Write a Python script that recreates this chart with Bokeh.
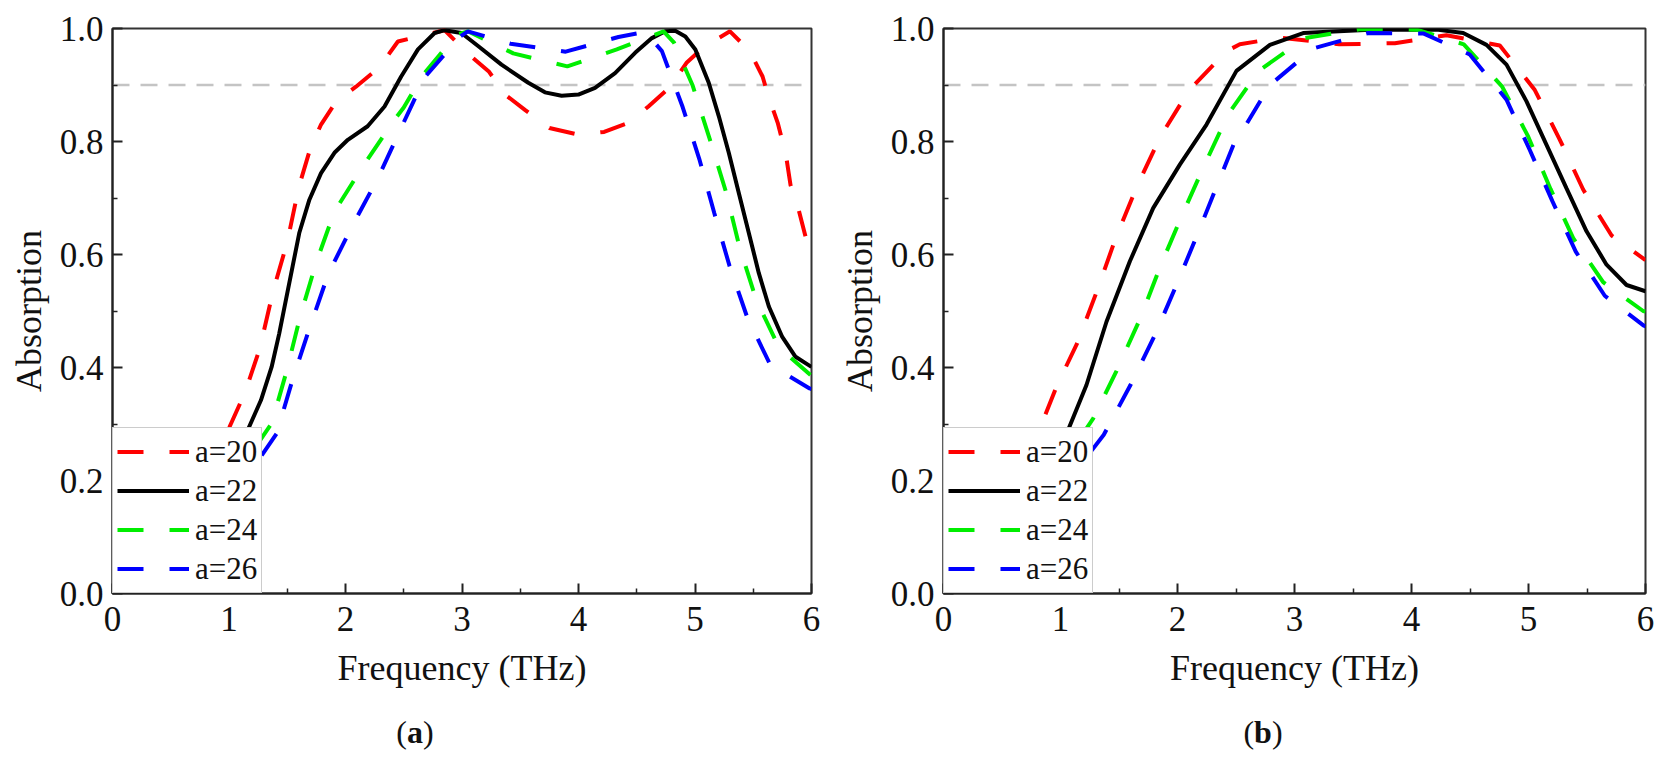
from bokeh.plotting import figure
from bokeh.models import Range1d, FixedTicker, PrintfTickFormatter, Legend, LegendItem, Span, Div
from bokeh.layouts import row, column
from bokeh.embed import file_html
from bokeh.resources import INLINE

# ---------------- data: panel (a) ----------------
fa20 = [0.0, 0.5, 0.95, 1.136, 1.265, 1.377, 1.50, 1.60, 1.70, 1.79, 1.92, 2.09, 2.29, 2.45, 2.71, 2.85,
        3.06, 3.23, 3.37, 3.54, 3.75, 4.0, 4.22, 4.43, 4.6, 4.78, 4.93, 5.08, 5.3, 5.47, 5.58, 5.63,
        5.71, 5.78, 5.82, 5.89, 5.95, 6.0]
aa20 = [0.0, 0.08, 0.27, 0.355, 0.434, 0.534, 0.622, 0.72, 0.789, 0.83, 0.871, 0.897, 0.931, 0.977, 0.99, 0.997,
        0.954, 0.924, 0.883, 0.856, 0.824, 0.812, 0.817, 0.833, 0.862, 0.895, 0.94, 0.968, 0.995, 0.96, 0.915, 0.88,
        0.833, 0.777, 0.723, 0.679, 0.631, 0.59]

fa22 = [0.0, 0.6, 1.16, 1.274, 1.366, 1.431, 1.489, 1.546, 1.603, 1.69, 1.79, 1.905, 2.02, 2.19, 2.335, 2.478,
        2.622, 2.765, 2.851, 2.995, 3.138, 3.339, 3.569, 3.712, 3.855, 3.999, 4.142, 4.314, 4.486, 4.63, 4.745,
        4.83, 4.917, 5.003, 5.118, 5.204, 5.29, 5.376, 5.462, 5.548, 5.634, 5.749, 5.863, 6.0]
aa22 = [0.0, 0.1, 0.289, 0.342, 0.401, 0.46, 0.52, 0.579, 0.638, 0.697, 0.744, 0.78, 0.803, 0.827, 0.862, 0.915,
        0.963, 0.992, 0.997, 0.992, 0.969, 0.936, 0.904, 0.887, 0.881, 0.883, 0.895, 0.921, 0.957, 0.983, 0.995,
        0.996, 0.986, 0.963, 0.904, 0.845, 0.78, 0.709, 0.638, 0.567, 0.508, 0.454, 0.419, 0.401]

fa24 = [0.0, 0.7, 1.366, 1.495, 1.609, 1.747, 1.905, 2.149, 2.421, 2.5, 2.665, 2.952, 3.05, 3.44, 3.904,
        4.329, 4.73, 4.82, 4.98, 5.138, 5.267, 5.381, 5.525, 5.72, 6.0]
aa24 = [0.0, 0.1, 0.301, 0.394, 0.489, 0.585, 0.676, 0.756, 0.839, 0.86, 0.918, 0.989, 0.995, 0.956, 0.933,
        0.963, 0.995, 0.975, 0.899, 0.797, 0.71, 0.614, 0.52, 0.436, 0.385]

fa26 = [0.0, 0.8, 1.409, 1.546, 1.695, 1.853, 2.054, 2.283, 2.484, 2.685, 2.98, 3.05, 3.417, 3.89, 4.343,
        4.573, 4.716, 4.894, 5.037, 5.166, 5.296, 5.448, 5.648, 5.984, 6.0]
aa26 = [0.0, 0.1, 0.283, 0.379, 0.472, 0.566, 0.649, 0.737, 0.827, 0.915, 0.985, 0.995, 0.973, 0.959, 0.985,
        0.994, 0.96, 0.861, 0.769, 0.673, 0.58, 0.489, 0.404, 0.363, 0.362]

# ---------------- data: panel (b) ----------------
fb20 = [0.0, 0.4, 0.8, 0.972, 1.143, 1.313, 1.47, 1.65, 1.855, 2.097, 2.419, 2.533, 2.875, 3.382, 3.858,
        4.299, 4.755, 5.054, 5.268, 5.467, 5.709, 6.0]
ab20 = [0.0, 0.1, 0.28, 0.369, 0.443, 0.536, 0.628, 0.719, 0.809, 0.89, 0.96, 0.972, 0.984, 0.972, 0.974,
        0.988, 0.97, 0.891, 0.803, 0.715, 0.634, 0.59]

fb22 = [0.0, 0.5, 1.066, 1.222, 1.393, 1.593, 1.792, 2.02, 2.248, 2.504, 2.79, 3.074, 3.644, 4.214, 4.442,
        4.641, 4.812, 4.983, 5.154, 5.325, 5.496, 5.667, 5.838, 6.0]
ab22 = [0.0, 0.1, 0.29, 0.369, 0.481, 0.588, 0.682, 0.759, 0.83, 0.925, 0.971, 0.992, 0.998, 0.998, 0.992,
        0.971, 0.936, 0.871, 0.794, 0.717, 0.641, 0.582, 0.546, 0.535]

fb24 = [0.0, 0.6, 1.28, 1.479, 1.684, 1.855, 2.04, 2.234, 2.433, 2.695, 3.088, 3.564, 4.043, 4.447, 4.775,
        4.997, 5.188, 5.382, 5.638, 5.98, 6.0]
ab24 = [0.0, 0.1, 0.31, 0.394, 0.488, 0.58, 0.67, 0.76, 0.848, 0.925, 0.983, 0.999, 0.998, 0.972, 0.897,
        0.809, 0.716, 0.629, 0.551, 0.50, 0.499]

fb26 = [0.0, 0.7, 1.37, 1.598, 1.806, 1.997, 2.177, 2.353, 2.49, 2.561, 2.79, 3.165, 3.63, 4.105, 4.498,
        4.812, 5.011, 5.205, 5.404, 5.652, 5.985, 6.0]
ab26 = [0.0, 0.1, 0.281, 0.369, 0.457, 0.549, 0.639, 0.73, 0.80, 0.821, 0.90, 0.965, 0.992, 0.991, 0.954,
        0.874, 0.785, 0.694, 0.605, 0.527, 0.474, 0.473]

labels = ["a=20", "a=22", "a=24", "a=26"]
colors = ["#ff0000", "#000000", "#00ee00", "#0000ff"]
dashes = ["26 26", "solid", "26 26", "26 26"]
x_ticks = [0, 1, 2, 3, 4, 5, 6]
x_minor = [0.5, 1.5, 2.5, 3.5, 4.5, 5.5]
y_ticks = [0.0, 0.2, 0.4, 0.6, 0.8, 1.0]
y_minor = [0.1, 0.3, 0.5, 0.7, 0.9]
threshold = 0.9

FONT = "Times New Roman"


def make_panel(series, width, bl, br):
    p = figure(width=width, height=700, output_backend="svg", toolbar_location=None,
               x_range=Range1d(0, 6), y_range=Range1d(0, 1),
               min_border_left=bl, min_border_right=br, min_border_top=28, min_border_bottom=107)
    p.grid.visible = False
    p.outline_line_color = "#333333"
    p.outline_line_width = 2
    p.background_fill_color = "white"
    p.border_fill_color = "white"

    p.add_layout(Span(location=threshold, dimension="width", line_color="#c4c4c4",
                      line_dash="17 11", line_width=2.5, level="underlay"))

    items = []
    for (fx, ay), lab, col, dsh in zip(series, labels, colors, dashes):
        r = p.line(fx, ay, line_color=col, line_width=4, line_dash=dsh)
        items.append(LegendItem(label=lab, renderers=[r]))

    leg = Legend(items=items, location="bottom_left", margin=0, padding=4, spacing=0,
                 glyph_width=72, glyph_height=39, label_height=39, label_standoff=6,
                 label_text_font=FONT, label_text_font_size="31px", label_text_color="#111111",
                 border_line_color="#999999", border_line_width=1,
                 background_fill_color="white", background_fill_alpha=1.0)
    p.add_layout(leg, "center")

    for ax in (p.xaxis[0], p.yaxis[0]):
        ax.axis_line_width = 2
        ax.axis_line_color = "#222222"
        ax.major_tick_line_width = 2
        ax.major_tick_line_color = "#222222"
        ax.minor_tick_line_width = 1.5
        ax.minor_tick_line_color = "#222222"
        ax.major_tick_in = 10
        ax.major_tick_out = 0
        ax.minor_tick_in = 5
        ax.minor_tick_out = 0
        ax.major_label_text_font = FONT
        ax.major_label_text_font_size = "35px"
        ax.major_label_text_color = "#111111"
        ax.axis_label_text_font = FONT
        ax.axis_label_text_font_size = "36px"
        ax.axis_label_text_font_style = "normal"
        ax.axis_label_text_color = "#111111"

    p.xaxis.ticker = FixedTicker(ticks=x_ticks, minor_ticks=x_minor)
    p.yaxis.ticker = FixedTicker(ticks=y_ticks, minor_ticks=y_minor)
    p.yaxis.formatter = PrintfTickFormatter(format="%.1f")
    p.xaxis.axis_label = "Frequency (THz)"
    p.yaxis.axis_label = "Absorption"
    p.xaxis.major_label_standoff = 13
    p.yaxis.major_label_standoff = 9
    p.xaxis.axis_label_standoff = 14
    p.yaxis.axis_label_standoff = 8
    return p


pa = make_panel([(fa20, aa20), (fa22, aa22), (fa24, aa24), (fa26, aa26)], 831, 112, 20)
pb = make_panel([(fb20, ab20), (fb22, ab22), (fb24, ab24), (fb26, ab26)], 830, 112, 16)

cap_style = "font-family:'Times New Roman',serif;font-size:32px;line-height:36px;padding-top:9px;text-align:center;color:#111;"
da = Div(text=f'<div style="{cap_style}width:820px;">(<b>a</b>)</div>', width=831, height=50)
db = Div(text=f'<div style="{cap_style}width:834px;">(<b>b</b>)</div>', width=830, height=50)

layout = column(row(pa, pb), row(da, db))
open("out.html", "w").write(file_html(layout, INLINE))
